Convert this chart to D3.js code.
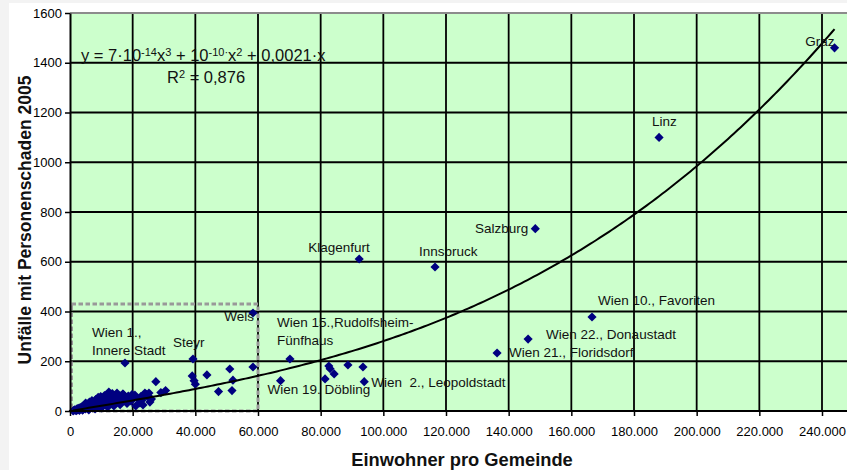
<!DOCTYPE html>
<html><head><meta charset="utf-8">
<script src="https://cdn.jsdelivr.net/npm/d3@7"></script>
<style>
html,body{margin:0;padding:0;background:#fff;}
svg{display:block;font-family:"Liberation Sans",Arial,sans-serif;}
</style></head><body>
<svg id="chart" width="847" height="470"></svg>
<script>
// Named municipalities (population, accidents with personal injury 2005)
const cityNames = ["Graz", "Linz", "Salzburg", "Innsbruck", "Klagenfurt",
  "Wien 10., Favoriten", "Wien 22., Donaustadt", "Wien 21., Floridsdorf",
  "Wien 15.,Rudolfsheim-\nFünfhaus", "Wien 19. Döbling", "Wien  2., Leopoldstadt",
  "Wels", "Steyr", "Wien 1.,\nInnere Stadt"];
const cityPopulation = [244000, 188000, 148500, 116500, 92300, 166600, 146200, 136300,
  70200, 67200, 93900, 58400, 39250, 17550];
const cityAccidents = [1460, 1100, 733, 579, 611, 378, 289, 233, 209, 122, 118, 394, 209, 193];

// All other municipalities
const otherPopulation = [
  1000, 1200, 1500, 1800, 2000, 2100, 2300, 2500, 2700, 2900, 3000, 3100, 3300, 3500, 3700, 3900,
  4000, 4100, 4300, 4500, 4700, 4900, 5100, 5300, 5500, 5700, 5900, 6000, 6100, 6300, 6500, 6700,
  6900, 7100, 7300, 7500, 7700, 7900, 8000, 8100, 8300, 8500, 8700, 8900, 9100, 9300, 9500, 9700,
  9900, 10000, 10100, 10300, 10500, 10700, 10900, 11100, 11300, 11600, 11900, 12000, 12200, 12500,
  12800, 13100, 13400, 13700, 14000, 14000, 14400, 14800, 15200, 15600, 16000, 16000, 16500, 16900,
  17400, 18000, 18600, 19200, 19800, 20700, 21400, 22300, 23000, 23300, 23900, 24200, 24900, 25200,
  25500, 26000, 27400, 29000, 30500, 39000, 39600, 40000, 43700, 47400, 51000, 52000, 51700, 58400,
  81400, 82600, 83000, 84300, 88700, 93500,
  5000, 6200, 7000, 8200, 9000, 9800, 11000, 12400, 13500, 15000, 16900, 18200, 19500, 21000, 22600];
const otherAccidents = [
  0, 2, 5, 3, 1, 8, 4, 10, 6, 12, 2, 7, 14, 9, 16, 11,
  3, 5, 18, 13, 20, 8, 22, 15, 24, 10, 18, 4, 26, 14, 21, 28,
  17, 30, 12, 25, 33, 19, 8, 29, 36, 22, 40, 27, 33, 44, 18, 38,
  48, 12, 30, 42, 52, 25, 46, 35, 55, 40, 60, 15, 30, 50,
  65, 44, 58, 36, 52, 20, 62, 45, 56, 38, 60, 25, 48, 68,
  55, 42, 60, 50, 66, 64, 52, 32, 44, 24, 72, 68, 56, 72,
  36, 48, 118, 74, 82, 141, 122, 108, 145, 78, 169, 124, 82, 177,
  129, 181, 170, 149, 185, 177,
  32, 36, 42, 46, 55, 58, 62, 76, 70, 72, 68, 30, 40, 20, 58];

// Polynomial trend: y = c1*x + c2*x^2 + c3*x^3
const trendCoeffs = [0.0021, 1e-10, 7e-14];

const xTicks = [0, 20000, 40000, 60000, 80000, 100000, 120000, 140000, 160000, 180000, 200000, 220000, 240000];
const yTicks = [0, 200, 400, 600, 800, 1000, 1200, 1400, 1600];

// Highlighted small-town area (population, accidents)
const zoomBoxX = [0, 60000];
const zoomBoxY = [0, 430];

// Label placement relative to each named point
const labelLayout = {
  "Graz": {dx: 0, dy: -2, anchor: "end"},
  "Linz": {dx: -7, dy: -11, anchor: "start"},
  "Salzburg": {dx: -7, dy: 4, anchor: "end"},
  "Innsbruck": {dx: -16, dy: -11, anchor: "start"},
  "Klagenfurt": {dx: -51, dy: -7, anchor: "start"},
  "Wien 10., Favoriten": {dx: 6, dy: -12, anchor: "start"},
  "Wien 22., Donaustadt": {dx: 18, dy: 0, anchor: "start"},
  "Wien 21., Floridsdorf": {dx: 12, dy: 4, anchor: "start"},
  "Wien 15.,Rudolfsheim-\nFünfhaus": {dx: -13, dy: -32, anchor: "start"},
  "Wien 19. Döbling": {dx: -13, dy: 13, anchor: "start"},
  "Wien  2., Leopoldstadt": {dx: 7, dy: 5, anchor: "start"},
  "Wels": {dx: 1, dy: 8, anchor: "end"},
  "Steyr": {dx: -20, dy: -12, anchor: "start"},
  "Wien 1.,\nInnere Stadt": {dx: -33, dy: -26, anchor: "start"}
};

const W = 847, H = 470;
const plotLeft = 70, plotTop = 13, plotBottom = 411, plotRight = W;

const x = d3.scaleLinear().domain([0, 240000]).range([plotLeft, 822]);
const y = d3.scaleLinear().domain([0, 1600]).range([plotBottom, plotTop]);

const svg = d3.select("#chart");

// page background
svg.append("rect").attr("width", W).attr("height", H).attr("fill", "#f3f3f3");
svg.append("rect").attr("x", 9).attr("y", 3).attr("width", W - 9).attr("height", H - 3).attr("fill", "#fff");

// plot area
svg.append("rect").attr("x", plotLeft).attr("y", plotTop)
  .attr("width", plotRight - plotLeft).attr("height", plotBottom - plotTop)
  .attr("fill", "#ccffcc");

// grid
const grid = svg.append("g").attr("stroke", "#000").attr("stroke-width", 1.8);
grid.selectAll("line.v").data(xTicks.filter(d => d > 0)).join("line")
  .attr("class", "v")
  .attr("x1", d => x(d)).attr("x2", d => x(d))
  .attr("y1", plotTop).attr("y2", plotBottom);
grid.selectAll("line.h").data(yTicks.filter(d => d > 0 && d < 1600)).join("line")
  .attr("class", "h")
  .attr("x1", plotLeft).attr("x2", plotRight)
  .attr("y1", d => y(d)).attr("y2", d => y(d));

// top border
svg.append("line").attr("x1", plotLeft).attr("x2", plotRight).attr("y1", plotTop).attr("y2", plotTop)
  .attr("stroke", "#8c8c8c").attr("stroke-width", 2);

// dashed frame around the small-town cluster
svg.append("rect")
  .attr("x", x(zoomBoxX[0]) + 1.5).attr("y", y(zoomBoxY[1]))
  .attr("width", x(zoomBoxX[1]) - x(zoomBoxX[0]) - 1.5)
  .attr("height", y(zoomBoxY[0]) - y(zoomBoxY[1]))
  .attr("fill", "none").attr("stroke", "#999").attr("stroke-width", 3)
  .attr("stroke-dasharray", "4.5,2.5");

// data points
const pts = otherPopulation.map((p, i) => ({p, a: otherAccidents[i]}))
  .concat(cityPopulation.map((p, i) => ({p, a: cityAccidents[i], name: cityNames[i]})));
const diamond = d3.symbol(d3.symbolSquare, 42);
svg.append("g").selectAll("path").data(pts).join("path")
  .attr("d", diamond)
  .attr("transform", d => `translate(${x(d.p)},${y(d.a)}) rotate(45)`)
  .attr("fill", "#000080");

// trend curve
const allPop = pts.map(d => d.p);
const xmin = d3.min(allPop), xmax = d3.max(allPop);
const trend = v => trendCoeffs[0] * v + trendCoeffs[1] * v * v + trendCoeffs[2] * v * v * v;
const samples = d3.range(xmin, xmax, 1000).concat([xmax]);
svg.append("path")
  .attr("d", d3.line().x(v => x(v)).y(v => y(trend(v)))(samples))
  .attr("fill", "none").attr("stroke", "#000").attr("stroke-width", 2);

// axes
const de = d3.formatLocale({decimal: ",", thousands: ".", grouping: [3], currency: ["", ""]});
const fmt = de.format(",");

const yAxis = svg.append("g").attr("transform", `translate(${plotLeft},0)`)
  .call(d3.axisLeft(y).tickValues(yTicks).tickFormat(d3.format("d")).tickSizeInner(5).tickSizeOuter(0).tickPadding(3));
yAxis.select(".domain").attr("stroke", "#000").attr("stroke-width", 2);
yAxis.selectAll(".tick line").attr("stroke", "#000").attr("stroke-width", 1.5);
yAxis.selectAll(".tick text").attr("font-size", 13).attr("fill", "#000")
  .attr("font-family", "'Liberation Sans', Arial, sans-serif");

const xAxis = svg.append("g").attr("transform", `translate(0,${plotBottom})`)
  .call(d3.axisBottom(x).tickValues(xTicks).tickFormat(fmt).tickSizeInner(5).tickSizeOuter(0).tickPadding(11));
xAxis.select(".domain").remove();
xAxis.selectAll(".tick line").attr("stroke", "#000").attr("stroke-width", 1.5);
xAxis.selectAll(".tick text").attr("font-size", 13).attr("fill", "#000")
  .attr("font-family", "'Liberation Sans', Arial, sans-serif");
svg.append("line").attr("x1", plotLeft - 1).attr("x2", plotRight).attr("y1", plotBottom).attr("y2", plotBottom)
  .attr("stroke", "#000").attr("stroke-width", 2);

// point labels
const lab = svg.append("g").attr("font-size", 13.5).attr("fill", "#111");
cityNames.forEach((n, i) => {
  const L = labelLayout[n];
  const t = lab.append("text")
    .attr("x", x(cityPopulation[i]) + L.dx)
    .attr("y", y(cityAccidents[i]) + L.dy)
    .attr("text-anchor", L.anchor)
    .style("white-space", "pre");
  n.split("\n").forEach((line, j) => {
    t.append("tspan").attr("x", x(cityPopulation[i]) + L.dx).attr("dy", j ? 18 : 0).text(line);
  });
});

// trend equation
const eq = svg.append("text").attr("x", 81).attr("y", 61).attr("font-size", 16.5).attr("fill", "#111");
const parts = [["y = 7·10", 0], ["-14", 1], ["x", 0], ["3", 1], [" + 10", 0], ["-10·", 1], ["x", 0], ["2", 1], [" + 0,0021·x", 0]];
parts.forEach(([s, sup], i) => {
  const ts = eq.append("tspan").text(s).style("white-space", "pre");
  if (sup) ts.attr("dy", -5).attr("font-size", 11);
  else if (i > 0 && parts[i - 1][1]) ts.attr("dy", 5);
});
const r2 = svg.append("text").attr("x", 167).attr("y", 83).attr("font-size", 16.5).attr("fill", "#111");
r2.append("tspan").text("R");
r2.append("tspan").attr("dy", -5).attr("font-size", 11).text("2");
r2.append("tspan").attr("dy", 5).style("white-space", "pre").text(" = 0,876");

// axis titles
svg.append("text").attr("x", 462).attr("y", 466).attr("text-anchor", "middle")
  .attr("font-size", 18.3).attr("font-weight", "bold").attr("fill", "#111")
  .text("Einwohner pro Gemeinde");
svg.append("text").attr("transform", "translate(31,220) rotate(-90)").attr("text-anchor", "middle")
  .attr("font-size", 17.5).attr("font-weight", "bold").attr("fill", "#111")
  .text("Unfälle mit Personenschaden 2005");
</script>
</body></html>
